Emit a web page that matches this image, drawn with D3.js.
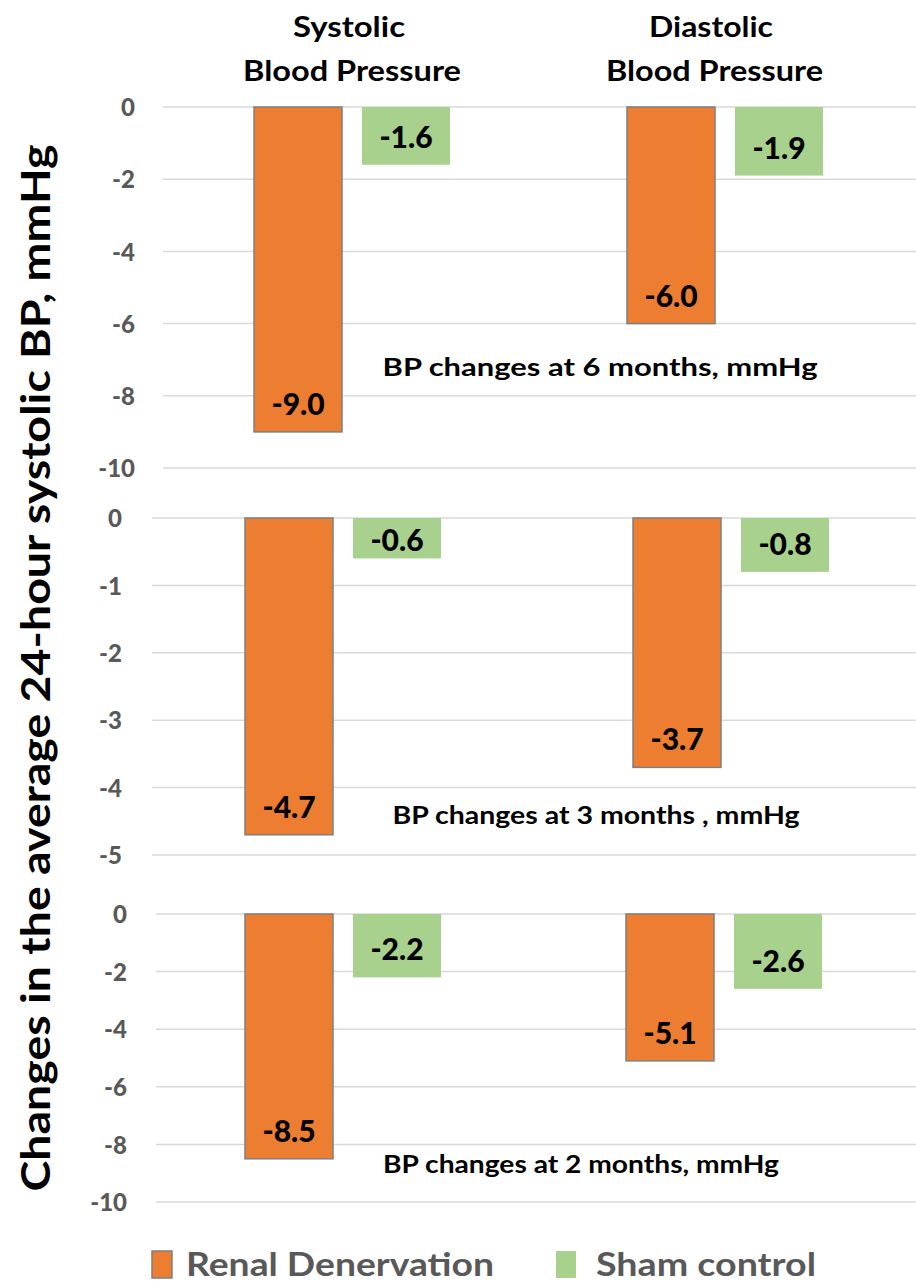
<!DOCTYPE html>
<html>
<head>
<meta charset="utf-8">
<script src="https://cdn.jsdelivr.net/npm/d3@7"></script>
<style>
  html, body { margin: 0; padding: 0; background: #fff; }
  svg { display: block; font-family: Lato, "Open Sans", "Liberation Sans", sans-serif; }
</style>
</head>
<body>
<svg id="chart" width="916" height="1284"></svg>
<script>
// ---- data ----
const groups = ["Systolic", "Diastolic"];
const groupTitleLines = [["Systolic", "Blood Pressure"], ["Diastolic", "Blood Pressure"]];
const seriesNames = ["Renal Denervation", "Sham control"];
const seriesColors = ["#ED7D31", "#A9D18E"];

const denervation6m = [-9.0, -6.0];
const sham6m = [-1.6, -1.9];
const denervation3m = [-4.7, -3.7];
const sham3m = [-0.6, -0.8];
const denervation2m = [-8.5, -5.1];
const sham2m = [-2.2, -2.6];

const ticks6m = [0, -2, -4, -6, -8, -10];
const ticks3m = [0, -1, -2, -3, -4, -5];
const ticks2m = [0, -2, -4, -6, -8, -10];

const panelCaptions = [
  "BP changes at 6 months, mmHg",
  "BP changes at 3 months , mmHg",
  "BP changes at 2 months, mmHg"
];
const yAxisTitle = "Changes in the average 24-hour systolic BP, mmHg";

// ---- layout of the three stacked panels ----
const panels = [
  { rd: denervation6m, sham: sham6m, ticks: ticks6m, caption: panelCaptions[0],
    y0: 107, y1: 468, gridLeft: 163, xRange: [165.5, 911.5], tickX: 135,
    cap: { x: 600, y: 376, w: 435 } },
  { rd: denervation3m, sham: sham3m, ticks: ticks3m, caption: panelCaptions[1],
    y0: 518, y1: 855, gridLeft: 152, xRange: [149, 925], tickX: 122,
    cap: { x: 596, y: 824, w: 407 } },
  { rd: denervation2m, sham: sham2m, ticks: ticks2m, caption: panelCaptions[2],
    y0: 914, y1: 1202, gridLeft: 156, xRange: [152.5, 914.5], tickX: 127,
    cap: { x: 581, y: 1173, w: 396 } }
];

const svg = d3.select("#chart");

const inner = d3.scaleBand()
  .domain(seriesNames)
  .range([-108, 108])
  .paddingInner(0.185)
  .paddingOuter(0.0926);

panels.forEach(p => {
  const g = svg.append("g");
  const ext = d3.extent(p.ticks);
  const y = d3.scaleLinear().domain([0, ext[0]]).range([p.y0, p.y1]);
  const x = d3.scaleBand().domain(groups).range(p.xRange).padding(0);

  // gridlines
  g.append("g").selectAll("line").data(p.ticks).join("line")
    .attr("x1", p.gridLeft).attr("x2", 916)
    .attr("y1", d => y(d)).attr("y2", d => y(d))
    .attr("stroke", "#D9D9D9").attr("stroke-width", 1.5);

  // tick labels (plain hyphen for the minus sign)
  const axis = d3.axisLeft(y).tickValues(p.ticks).tickSize(0).tickPadding(0)
    .tickFormat(d => String(d));
  const ag = g.append("g").attr("transform", `translate(${p.tickX},0)`).call(axis);
  ag.select(".domain").remove();
  ag.selectAll("text")
    .attr("fill", "#595959")
    .attr("font-size", 24)
    .attr("font-weight", 900)
    .attr("font-family", "Lato, sans-serif")
    .attr("dy", "0.36em");

  // bars
  const rows = groups.map((grp, i) => ({ grp, vals: [p.rd[i], p.sham[i]] }));
  const gg = g.selectAll(".grp").data(rows).join("g")
    .attr("transform", d => `translate(${x(d.grp) + x.bandwidth() / 2},0)`);

  const cells = gg.selectAll(".bar").data(d => d.vals.map((v, j) => ({ v, s: seriesNames[j], j })))
    .join("g");

  cells.append("rect")
    .attr("x", d => inner(d.s))
    .attr("width", inner.bandwidth())
    .attr("y", y(0))
    .attr("height", d => y(d.v) - y(0))
    .attr("fill", d => seriesColors[d.j])
    .attr("stroke", d => d.j === 0 ? "#7F7F7F" : "none")
    .attr("stroke-width", 1.5);

  cells.append("text")
    .attr("x", d => inner(d.s) + inner.bandwidth() / 2)
    .attr("y", d => Math.max(y(d.v) - 17, y(0) + 33))
    .attr("text-anchor", "middle")
    .attr("font-size", 30)
    .attr("font-weight", 900)
    .attr("fill", "#000")
    .text(d => d.v.toFixed(1));

  // panel caption
  g.append("text")
    .attr("x", p.cap.x).attr("y", p.cap.y)
    .attr("text-anchor", "middle")
    .attr("font-size", 25)
    .attr("font-weight", 700)
    .attr("fill", "#000")
    .attr("textLength", p.cap.w)
    .attr("lengthAdjust", "spacingAndGlyphs")
    .text(p.caption);
});

// column headings
const headX = [[349, 352], [711, 714.5]];
const headW = [[112, 218], [124, 217]];
const headY = [37, 81];
groupTitleLines.forEach((lines, i) => {
  lines.forEach((t, k) => {
    svg.append("text")
      .attr("x", headX[i][k]).attr("y", headY[k])
      .attr("text-anchor", "middle")
      .attr("font-size", 29)
      .attr("font-weight", 700)
      .attr("fill", "#000")
      .attr("textLength", headW[i][k])
      .attr("lengthAdjust", "spacingAndGlyphs")
      .text(t);
  });
});

// y-axis title
svg.append("text")
  .attr("transform", "translate(50,668) rotate(-90)")
  .attr("text-anchor", "middle")
  .attr("font-size", 41)
  .attr("font-weight", 700)
  .attr("fill", "#000")
  .attr("textLength", 1047)
  .attr("lengthAdjust", "spacingAndGlyphs")
  .text(yAxisTitle);

// legend
const legendItems = [
  { name: seriesNames[0], color: seriesColors[0], sx: 152, tx: 186, tw: 308, stroke: "#7F7F7F" },
  { name: seriesNames[1], color: seriesColors[1], sx: 556, tx: 596, tw: 220, stroke: "none" }
];
const lg = svg.append("g");
legendItems.forEach(it => {
  lg.append("rect")
    .attr("x", it.sx).attr("y", 1251).attr("width", 20).attr("height", 27)
    .attr("fill", it.color).attr("stroke", it.stroke).attr("stroke-width", 1.5);
  lg.append("text")
    .attr("x", it.tx).attr("y", 1276)
    .attr("font-size", 33)
    .attr("font-weight", 700)
    .attr("fill", "#595959")
    .attr("textLength", it.tw)
    .attr("lengthAdjust", "spacingAndGlyphs")
    .text(it.name);
});
</script>
</body>
</html>
